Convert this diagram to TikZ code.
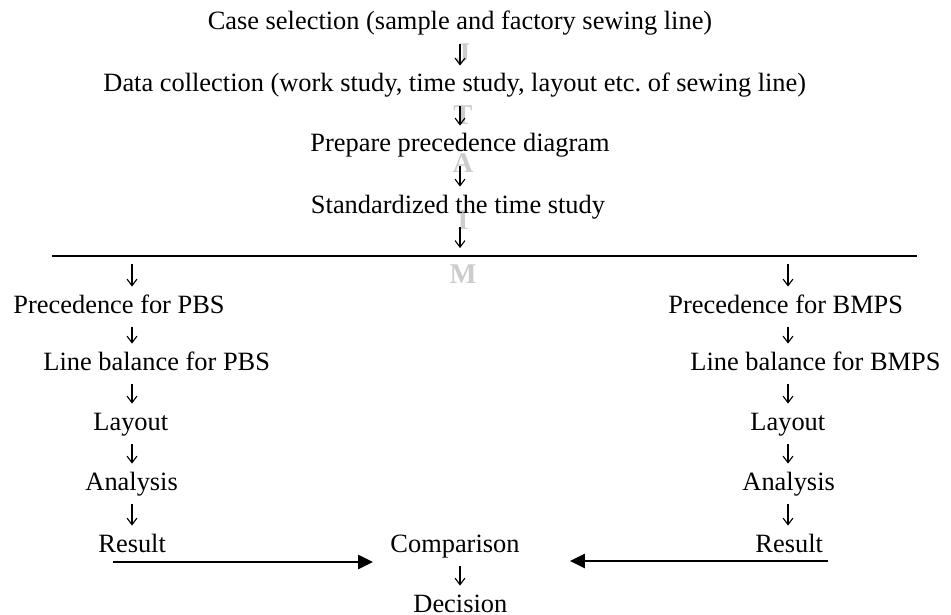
\documentclass[tikz,border=0pt]{standalone}
\usepackage{fontspec}
\setmainfont{Liberation Serif}
\usetikzlibrary{arrows.meta}
\usetikzlibrary{positioning}

\begin{document}
\begin{tikzpicture}[x=0.4545pt, y=-0.4545pt,
    every node/.style={inner sep=0pt, font=\fontsize{12}{14}\selectfont, text height=8.2pt, text depth=2.7pt},
    dn/.style={-{Straight Barb[length=3pt,width=4.5pt]}, line width=0.5pt, shorten <=3.6pt, shorten >=3.6pt},
    res/.style={-{Triangle[length=6.8pt,width=6.4pt]}, line width=0.9pt},
    wm/.style={text=black!20, font=\fontsize{13}{14}\selectfont\bfseries}]
            \useasboundingbox (0,0) rectangle (951,615);

            % Watermark
            \node[wm, anchor=base] (wmJ) at (463,63) {J};
            \node[wm, anchor=base] (wmT) at (463,125) {T};
            \node[wm, anchor=base] (wmA) at (463,173) {A};
            \node[wm, anchor=base] (wmI) at (463,230) {I};
            \node[wm, anchor=base] (wmM) at (463,283) {M};

            % Common steps
            \node[anchor=base] (case) at (460,30) {Case selection (sample and factory sewing line)};
            \node[anchor=base west] (data) at (103,92) {Data collection (work study, time study, layout etc.\ of sewing line)};
            \node[anchor=base] (prep) at (460,152) {Prepare precedence diagram};
            \node[anchor=base] (std) at (458,213) {Standardized the time study};

            \draw[dn] (case.south) -- (case.south |- data.north);
            \draw[dn] (case.south |- data.south) -- (case.south |- prep.north);
            \draw[dn] (prep.south) -- (prep.south |- std.north);

            % Split line
            \coordinate (lineL) at (52,256);
            \coordinate (lineR) at (917,256);
            \coordinate (colL) at (132,256);
            \coordinate (colR) at (788,256);
            \draw[line width=0.75pt] (lineL) -- (lineR);
            \draw[dn] (prep.south |- std.south) -- (prep.south |- lineL);

            % PBS branch
            \node[anchor=base west] (precL) at (13,313) {Precedence for PBS};
            \node[anchor=base west] (lbL) at (43,370) {Line balance for PBS};
            \node[anchor=base west] (layL) at (93,430) {Layout};
            \node[anchor=base west] (anaL) at (85,490) {Analysis};
            \node[anchor=base west] (resL) at (98,552) {Result};

            \draw[dn] (colL) -- (colL |- precL.north);
            \draw[dn] (colL |- precL.south) -- (colL |- lbL.north);
            \draw[dn] (colL |- lbL.south) -- (colL |- layL.north);
            \draw[dn] (colL |- layL.south) -- (colL |- anaL.north);
            \draw[dn] (colL |- anaL.south) -- (colL |- resL.north);

            % BMPS branch
            \node[anchor=base west] (precR) at (668,313) {Precedence for BMPS};
            \node[anchor=base west] (lbR) at (690,370) {Line balance for BMPS};
            \node[anchor=base west] (layR) at (750,430) {Layout};
            \node[anchor=base west] (anaR) at (742,490) {Analysis};
            \node[anchor=base west] (resR) at (755,552) {Result};

            \draw[dn] (colR) -- (colR |- precR.north);
            \draw[dn] (colR |- precR.south) -- (colR |- lbR.north);
            \draw[dn] (colR |- lbR.south) -- (colR |- layR.north);
            \draw[dn] (colR |- layR.south) -- (colR |- anaR.north);
            \draw[dn] (colR |- anaR.south) -- (colR |- resR.north);

            % Comparison
            \node[anchor=base west] (cmp) at (390,552) {Comparison};
            \node[anchor=base west] (dec) at (413,612) {Decision};
            \draw[dn] (prep.south |- cmp.south) -- (prep.south |- dec.north);

            \coordinate (fromL) at (113,562);
            \coordinate (fromR) at (828,561);
            \draw[res, shorten >=7.7pt] (fromL) -- (fromL -| cmp.west);
            \draw[res, shorten >=22.7pt] (fromR) -- (fromR -| cmp.east);
        \end{tikzpicture}
\end{document}
